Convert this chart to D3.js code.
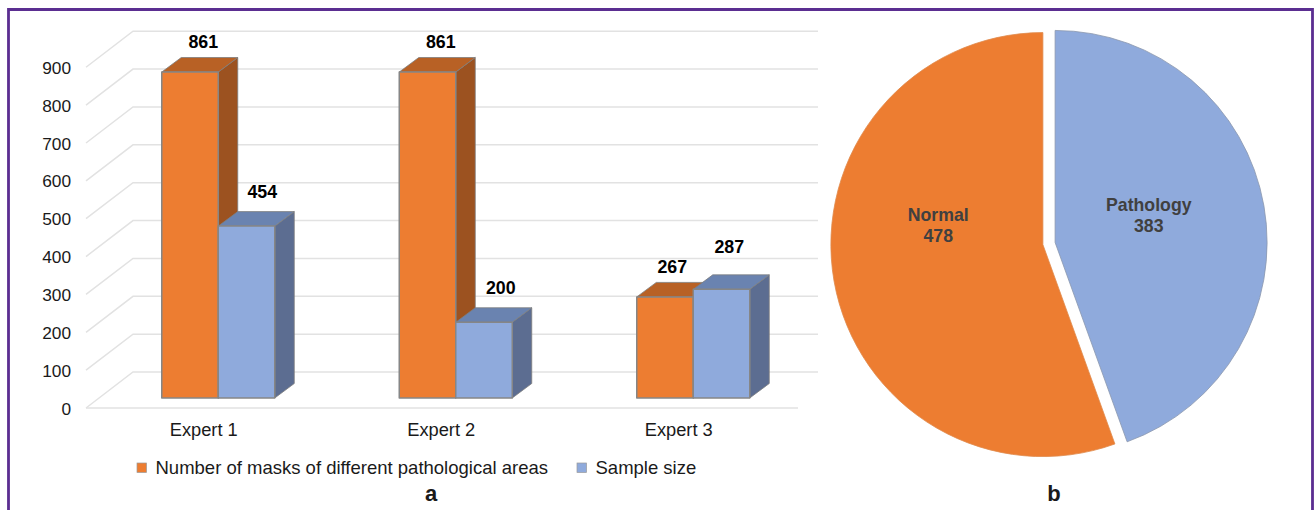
<!DOCTYPE html>
<html>
<head>
<meta charset="utf-8">
<script src="https://cdn.jsdelivr.net/npm/d3@7"></script>
<style>
html,body{margin:0;padding:0;background:#fff;}
svg{display:block;font-family:"Liberation Sans",Arial,sans-serif;}
</style>
</head>
<body>
<svg id="chart" width="1314" height="510"></svg>
<script>
const experts = ["Expert 1", "Expert 2", "Expert 3"];
const seriesNames = ["Number of masks of different pathological areas", "Sample size"];
const maskCounts = [861, 861, 267];
const sampleSizes = [454, 200, 287];
const axisTicks = [0, 100, 200, 300, 400, 500, 600, 700, 800, 900];
const pieLabels = ["Pathology", "Normal"];
const pieValues = [383, 478];

const svg = d3.select("#chart");

// Panel frame, open at the bottom edge of the page
svg.append("path")
  .attr("d", d3.line()([[8.5, 510], [8.5, 9.5], [1312.5, 9.5], [1312.5, 510]]))
  .attr("fill", "none").attr("stroke", "#5b2e91").attr("stroke-width", 2.8);

// ---- Panel a: pseudo-3D clustered columns ----
const unit = 37.86 / 100;           // pixels per value unit
const yFront = d3.scaleLinear().domain([0, 900]).range([408, 408 - 900 * unit]);
const yBack  = d3.scaleLinear().domain([0, 900]).range([372, 372 - 900 * unit]);
const yBar   = d3.scaleLinear().domain([0, 900]).range([398, 398 - 900 * unit]);
const xCat = d3.scaleBand().domain(experts).range([99.5, 812]);
const barW = 56.5;
const depth = { x: 19.5, y: -14.5 };

const grid = svg.append("g").attr("fill", "none").attr("stroke", "#e2e2e2").attr("stroke-width", 1.5);
axisTicks.forEach(t => {
  grid.append("path").attr("d", d3.line()([
    [86, yFront(t)], [133, yBack(t)], [818, yBack(t)]
  ]));
});
grid.append("line")
  .attr("x1", 86).attr("x2", 798)
  .attr("y1", yFront(0)).attr("y2", yFront(0));

// Value axis labels sit at the front edge of the left wall
svg.append("g").selectAll("text").data(axisTicks).join("text")
  .attr("x", 71).attr("y", d => yFront(d) + 0.5).attr("dy", "0.35em")
  .attr("text-anchor", "end").attr("font-size", 17.3).attr("fill", "#1a1a1a")
  .text(d => d);

const palettes = [
  { front: "#ed7d31", top: "#b86125", side: "#9c5220" },
  { front: "#8faadc", top: "#6a83b0", side: "#5c6d91" }
];

function drawColumn(g, x, value, pal) {
  const top = yBar(value), base = yBar(0);
  const x2 = x + barW;
  const line = d3.line();
  const stroke = { stroke: "#868686", "stroke-width": 1.5, "stroke-linejoin": "round" };
  const faces = [
    [pal.side, [[x2, top], [x2 + depth.x, top + depth.y], [x2 + depth.x, base + depth.y], [x2, base]]],
    [pal.top, [[x, top], [x + depth.x, top + depth.y], [x2 + depth.x, top + depth.y], [x2, top]]],
    [pal.front, [[x, top], [x2, top], [x2, base], [x, base]]]
  ];
  faces.forEach(([fill, pts], i) => {
    const p = g.append("path").attr("d", line(pts) + "Z").attr("fill", fill);
    if (i === 2) Object.entries(stroke).forEach(([k, v]) => p.attr(k, v));
    else p.attr("stroke", "#7d7d7d").attr("stroke-width", 0.8);
  });
}

const columns = svg.append("g");
experts.forEach((name, i) => {
  const mid = xCat(name) + xCat.bandwidth() / 2;
  drawColumn(columns, mid - barW, maskCounts[i], palettes[0]);
  drawColumn(columns, mid, sampleSizes[i], palettes[1]);
});

// Value labels above the columns; the third cluster's pair sits closer in
const labels = svg.append("g").attr("font-size", 17.8).attr("font-weight", 700)
  .attr("fill", "#000").attr("text-anchor", "middle");
const labelLift = [[24, 24, 24], [28, 28, 36]];
const labelSlide = [[-15, -15, -21], [44, 45, 36]];
experts.forEach((name, i) => {
  const mid = xCat(name) + xCat.bandwidth() / 2;
  labels.append("text").attr("x", mid + labelSlide[0][i]).attr("y", yBar(maskCounts[i]) - labelLift[0][i]).text(maskCounts[i]);
  labels.append("text").attr("x", mid + labelSlide[1][i]).attr("y", yBar(sampleSizes[i]) - labelLift[1][i]).text(sampleSizes[i]);
});

// Category labels
svg.append("g").selectAll("text").data(experts).join("text")
  .attr("x", d => xCat(d) + xCat.bandwidth() / 2 - 14.5)
  .attr("y", 435.5).attr("text-anchor", "middle")
  .attr("font-size", 18.3).attr("fill", "#1a1a1a").text(d => d);

// Legend
const legendX = [137, 577];
seriesNames.forEach((name, i) => {
  svg.append("rect").attr("x", legendX[i]).attr("y", 463).attr("width", 9.5).attr("height", 9.5)
    .attr("fill", palettes[i].front).attr("stroke", "#9a9a9a").attr("stroke-width", 0.7);
  svg.append("text").attr("x", legendX[i] + 18.5).attr("y", 474)
    .attr("font-size", 18.5).attr("fill", "#1a1a1a").text(name);
});

// ---- Panel b: exploded pie ----
const pieCentre = [1049, 243.5];
const radius = 212, explode = 6.2;
const pieColors = ["#8faadc", "#ed7d31"];
const arcs = d3.pie().sort(null)(pieValues);
const arc = d3.arc().innerRadius(0).outerRadius(radius);
const labelArc = d3.arc().innerRadius(radius * 0.53).outerRadius(radius * 0.53);
const labelShift = [[-17, -9], [6, -40]];
const pieG = svg.append("g").attr("transform", `translate(${pieCentre})`);
arcs.forEach((a, i) => {
  const mid = (a.startAngle + a.endAngle) / 2;
  const off = [Math.sin(mid) * explode, -Math.cos(mid) * explode];
  const g = pieG.append("g").attr("transform", `translate(${off})`);
  g.append("path").attr("d", arc(a)).attr("fill", pieColors[i])
    .attr("stroke", i === 0 ? "#8a97ad" : "#e08a4c").attr("stroke-width", 0.8);
  const [cx, cy] = labelArc.centroid(a);
  const lx = cx + labelShift[i][0], ly = cy + labelShift[i][1];
  const t = g.append("text").attr("text-anchor", "middle").attr("font-size", 17.7)
    .attr("font-weight", 700).attr("fill", "#404040");
  t.append("tspan").attr("x", lx).attr("y", ly - 3).text(pieLabels[i]);
  t.append("tspan").attr("x", lx).attr("y", ly + 18).text(pieValues[i]);
});

// Panel letters
[["a", 431], ["b", 1054]].forEach(([s, x]) => {
  svg.append("text").attr("x", x).attr("y", 501).attr("text-anchor", "middle")
    .attr("font-size", 22).attr("font-weight", 700).attr("fill", "#1a1a1a").text(s);
});
</script>
</body>
</html>
